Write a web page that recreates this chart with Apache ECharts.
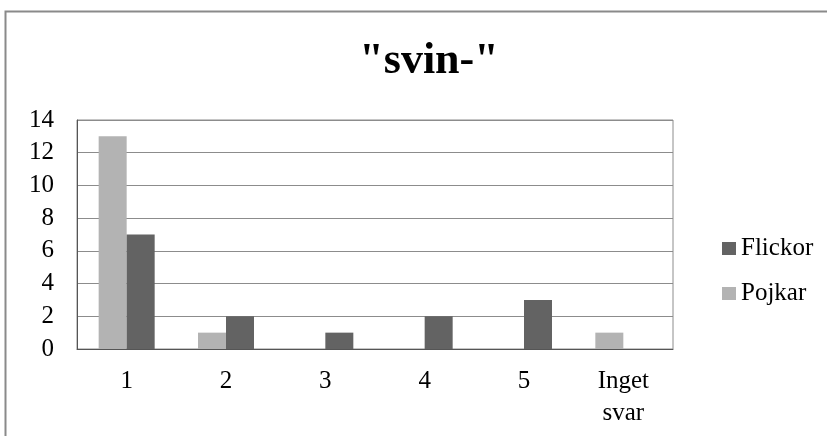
<!DOCTYPE html>
<html><head><meta charset="utf-8">
<script src="https://cdn.jsdelivr.net/npm/echarts@6/dist/echarts.min.js"></script>
<style>html,body{margin:0;padding:0;background:#fff}#c{width:827px;height:436px}</style>
</head><body><div id="c"></div>
<script>
const categories = ['1','2','3','4','5','Inget\nsvar'];
const pojkar = [13,1,0,0,0,1];
const flickor = [7,2,1,2,3,0];
const yTicks = {min:0,max:14,interval:2};
const font = '"Liberation Serif","Times New Roman",serif';
const chart = echarts.init(document.getElementById('c'));
chart.setOption({
  animation:false,
  backgroundColor:'#fff',
  graphic:[{type:'rect',shape:{x:5.5,y:11.5,width:900,height:500},style:{fill:'none',stroke:'#8a8a8a',lineWidth:2},silent:true}],
  title:{text:'"svin-"',left:424,textAlign:'center',top:35,textStyle:{fontFamily:font,fontSize:44,fontWeight:'bold',color:'#000'}},
  legend:{
    orient:'vertical',left:717,top:231,itemWidth:14,itemHeight:13,itemGap:20,
    data:['Flickor','Pojkar'],
    textStyle:{fontFamily:font,fontSize:25,color:'#000'},
    icon:'rect'
  },
  grid:{left:77,right:154,top:120,bottom:87,show:true,borderColor:'#8c8c8c',borderWidth:1},
  xAxis:{type:'category',data:categories,
    axisLine:{lineStyle:{color:'#555',width:1}},
    axisTick:{show:false},
    axisLabel:{fontFamily:font,fontSize:25,color:'#000',margin:16,lineHeight:32}},
  yAxis:{type:'value',min:yTicks.min,max:yTicks.max,interval:yTicks.interval,
    axisLine:{show:true,lineStyle:{color:'#555'}},
    axisTick:{show:false},
    splitLine:{lineStyle:{color:'#8c8c8c',width:1}},
    axisLabel:{fontFamily:font,fontSize:25,color:'#000',margin:23}},
  series:[
    {name:'Pojkar',type:'bar',data:pojkar,barWidth:28,barGap:'0%',itemStyle:{color:'#b3b3b3'}},
    {name:'Flickor',type:'bar',data:flickor,barWidth:28,barGap:'0%',itemStyle:{color:'#636363'}}
  ]
});
</script></body></html>
